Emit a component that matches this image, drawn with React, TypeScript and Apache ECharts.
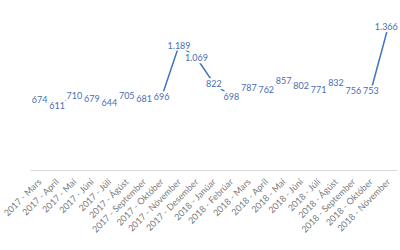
import React, { useEffect, useRef } from "react";
import * as echarts from "echarts";

const categories = [
  "2017 - Mars", "2017 - Apríl", "2017 - Maí", "2017 - Júní", "2017 - Júlí",
  "2017 - Ágúst", "2017 - September", "2017 - Október", "2017 - Nóvember",
  "2017 - Desember", "2018 - Janúar", "2018 - Febrúar", "2018 - Mars",
  "2018 - Apríl", "2018 - Maí", "2018 - Júní", "2018 - Júlí", "2018 - Ágúst",
  "2018 - September", "2018 - Október", "2018 - Nóvember",
];
const values = [674, 611, 710, 679, 644, 705, 681, 696, 1189, 1069, 822, 698, 787, 762, 857, 802, 771, 832, 756, 753, 1366];

const fmt = (v: number) => String(v).replace(/\B(?=(\d{3})+(?!\d))/g, ".");

export default function App() {
  const ref = useRef<HTMLDivElement>(null);
  useEffect(() => {
    const chart = echarts.init(ref.current!, null, { renderer: "svg" });
    chart.setOption({
      animation: false,
      grid: { left: 25, right: 3, top: 2, bottom: 80 },
      xAxis: {
        type: "category",
        data: categories,
        boundaryGap: true,
        axisLine: { lineStyle: { color: "#d9d9d9", width: 1 } },
        axisTick: { show: false },
        axisLabel: {
          rotate: 45,
          interval: 0,
          color: "#7a7a7a",
          fontSize: 9,
          fontFamily: "Lato",
          margin: 10,
        },
      },
      yAxis: {
        type: "value",
        min: 0,
        max: 1600,
        show: false,
      },
      series: [
        {
          type: "line",
          data: values,
          clip: false,
          symbol: "circle",
          symbolSize: 1,
          showSymbol: true,
          itemStyle: { color: "rgba(0,0,0,0)" },
          lineStyle: { color: "#4472C4", width: 1.5 },
          labelLayout: (p: any) =>
            p.dataIndex === values.length - 1 ? { hideOverlap: false, dx: -2 } : { hideOverlap: false },
          label: {
            show: true,
            position: "inside",
            formatter: (p: any) => fmt(p.value),
            color: "#4a6eb0",
            fontSize: 9,
            fontFamily: "Lato",
            backgroundColor: "#ffffff",
            padding: [1, 1],
          },
        },
      ],
    });
    return () => chart.dispose();
  }, []);
  return (
    <div
      ref={ref}
      style={{ position: "absolute", left: 0, top: 0, width: 400, height: 250, background: "#fff" }}
    />
  );
}
